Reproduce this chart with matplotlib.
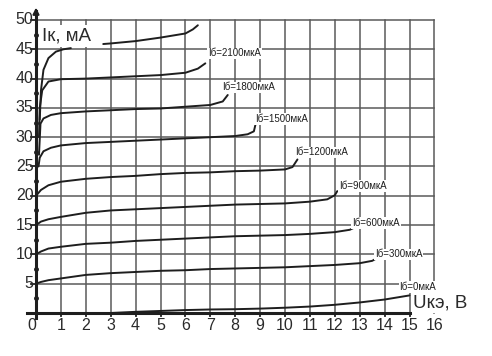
import numpy as np
import matplotlib
matplotlib.use("Agg")
from matplotlib import pyplot as plt

# output characteristics, Iк (mA) vs Uкэ (V), one curve per base current
ib_labels = ["Iб=0мкА", "Iб=300мкА", "Iб=600мкА", "Iб=900мкА", "Iб=1200мкА",
             "Iб=1500мкА", "Iб=1800мкА", "Iб=2100мкА", None]

u_0 = [0.5, 3, 4, 5, 6, 7, 8, 9, 10, 11, 12, 13, 14, 15]
i_0 = [0.0, 0.0, 0.2, 0.35, 0.5, 0.6, 0.65, 0.75, 0.9, 1.1, 1.4, 1.8, 2.3, 3.0]

u_300 = [0, 0.2, 0.5, 1, 2, 3, 4, 5, 6, 7, 8, 9, 10, 11, 12, 13, 13.5, 13.8]
i_300 = [5, 5.3, 5.6, 5.9, 6.5, 6.8, 7.0, 7.2, 7.3, 7.5, 7.6, 7.7, 7.8, 8.0, 8.2, 8.5, 8.9, 9.6]

u_600 = [0, 0.2, 0.5, 1, 2, 3, 4, 5, 6, 7, 8, 9, 10, 11, 12, 12.6, 12.9]
i_600 = [10, 10.5, 11.0, 11.3, 11.8, 12.0, 12.3, 12.5, 12.7, 12.9, 13.1, 13.2, 13.3, 13.5, 13.8, 14.2, 14.8]

u_900 = [0, 0.2, 0.5, 1, 2, 3, 4, 5, 6, 7, 8, 9, 10, 11, 11.7, 12, 12.1]
i_900 = [15, 15.6, 16.0, 16.4, 17.1, 17.5, 17.7, 17.9, 18.1, 18.3, 18.5, 18.6, 18.7, 19.0, 19.4, 20.1, 20.8]

u_1200 = [0, 0.2, 0.5, 1, 2, 3, 4, 5, 6, 7, 8, 9, 10, 10.3, 10.5]
i_1200 = [20, 21.0, 21.8, 22.4, 22.9, 23.2, 23.4, 23.7, 23.9, 24.0, 24.2, 24.3, 24.5, 24.9, 26.2]

u_1500 = [0.1, 0.15, 0.3, 0.6, 1, 2, 3, 4, 5, 6, 7, 8, 8.5, 8.75, 8.85]
i_1500 = [25, 26.5, 27.6, 28.2, 28.6, 29.0, 29.2, 29.4, 29.6, 29.8, 30.0, 30.2, 30.5, 31.0, 32.8]

u_1800 = [0.12, 0.18, 0.3, 0.6, 1, 2, 3, 4, 5, 6, 7, 7.5, 7.7]
i_1800 = [27, 32.3, 33.2, 33.8, 34.1, 34.4, 34.6, 34.8, 34.9, 35.2, 35.5, 36.1, 37.2]

u_2100 = [0.12, 0.15, 0.25, 0.5, 1, 2, 3, 4, 5, 6, 6.5, 6.8]
i_2100 = [30, 35, 38, 39.5, 39.9, 40.0, 40.2, 40.4, 40.6, 41.0, 41.7, 42.6]

u_top = [0.15, 0.2, 0.3, 0.5, 0.8, 1.1, 1.4, np.nan, 2.7, 3, 4, 5, 6, 6.3, 6.5]
i_top = [33, 38, 41.5, 43.5, 44.6, 45.0, 45.2, np.nan, 45.9, 46.0, 46.4, 47.0, 47.7, 48.4, 49.1]

curves_u = [u_0, u_300, u_600, u_900, u_1200, u_1500, u_1800, u_2100, u_top]
curves_i = [i_0, i_300, i_600, i_900, i_1200, i_1500, i_1800, i_2100, i_top]

# label anchor points (left edge, vertical centre)
label_u = [14.6, 13.6, 12.7, 12.17, 10.4, 8.8, 7.46, 6.92]
label_i = [4.4, 10.0, 15.4, 21.7, 27.4, 33.1, 38.5, 44.3]

x_ticks = list(range(1, 17))
y_ticks = list(range(5, 55, 5))

narrow = ["Liberation Sans Narrow", "Liberation Sans", "DejaVu Sans"]
dark = "#1e1e1e"
grid_col = "#5a5a5a"
txt_col = "#2a2a2a"

fig = plt.figure(figsize=(4.92, 3.56), dpi=100)
ax = fig.add_axes([0, 0, 1, 1])
ax.set_xlim(-36 / 24.9, (492 - 36) / 24.9)
ax.set_ylim((313 - 356) / 5.86, 313 / 5.86)
ax.axis("off")

# grid
for xv in x_ticks:
    ax.plot([xv, xv], [0, 50], color=grid_col, lw=1.1, zorder=1)
for yv in y_ticks:
    ax.plot([0, 16], [yv, yv], color=grid_col, lw=1.1, zorder=1)

# axes
ax.plot([0, 0], [-0.9, 51.5], color=dark, lw=2.2, zorder=3)
ax.annotate("", xy=(0, 52.6), xytext=(0, 50.5),
            arrowprops=dict(arrowstyle="-|>", color=dark, lw=1.5,
                            mutation_scale=9), zorder=3)
ax.plot([-0.35, 15], [0, 0], color=dark, lw=2.2, zorder=3)
ax.plot(np.zeros(10), np.arange(2.5, 50, 5), "o", color=dark, ms=2.5, zorder=3)
for yv in y_ticks:
    ax.plot([-0.2, 0], [yv, yv], color=dark, lw=1.3, zorder=3)
for xv in x_ticks[:15]:
    ax.plot([xv, xv], [-0.5, 0], color=dark, lw=1.3, zorder=3)

# tick labels
for xv in x_ticks:
    ax.text(xv, -2.2, str(xv), ha="center", va="center", fontsize=11.5,
            family=narrow, color=txt_col)
ax.text(-0.17, -2.1, "0", ha="center", va="center", fontsize=11.5,
        family=narrow, color=txt_col)
for yv in y_ticks:
    ax.text(-0.1, yv, str(yv), ha="right", va="center", fontsize=11.5,
            family=narrow, color=txt_col)

# curves
for u, i in zip(curves_u, curves_i):
    ax.plot(u, i, color=dark, lw=1.4, zorder=4, solid_capstyle="round")

# curve labels
for lab, lu, li in zip(ib_labels, label_u, label_i):
    ax.text(lu, li, lab, ha="left", va="center", fontsize=7, family=narrow,
            color=dark, zorder=5,
            bbox=dict(facecolor="white", edgecolor="none", pad=0.6))

# axis titles
ax.text(0.25, 47.3, "Iк, мА", ha="left", va="center", fontsize=13.5,
        family=narrow, color=txt_col, zorder=5,
        bbox=dict(facecolor="white", edgecolor="none", pad=2))
ax.text(15.15, 0.25, "Uкэ, В", ha="left", va="bottom", fontsize=13.5,
        family=narrow, color=txt_col, zorder=5,
        bbox=dict(facecolor="white", edgecolor="none", pad=1))

fig.savefig("out.png", dpi=100)
